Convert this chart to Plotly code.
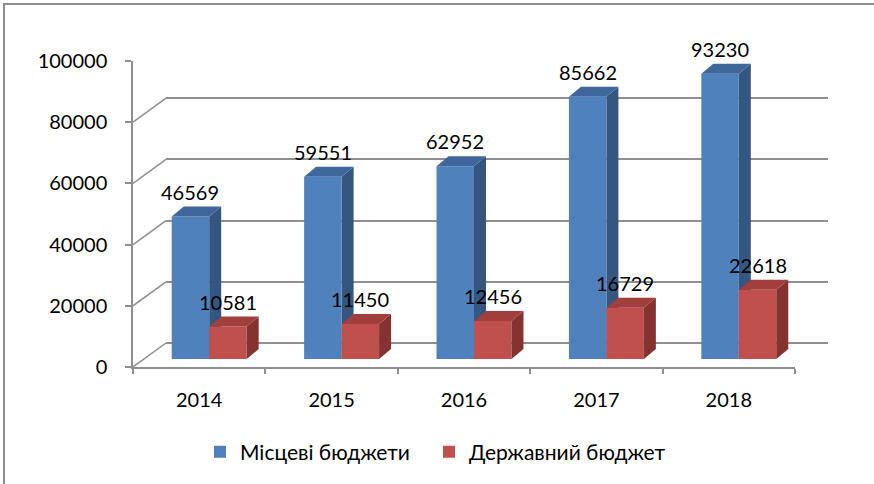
import plotly.graph_objects as go

# ---------------- data ----------------
years = ["2014", "2015", "2016", "2017", "2018"]
local_budgets = [46569, 59551, 62952, 85662, 93230]
state_budget = [10581, 11450, 12456, 16729, 22618]
series_names = ["Місцеві бюджети", "Державний бюджет"]
y_ticks = [0, 20000, 40000, 60000, 80000, 100000]

# ---------------- layout constants ----------------
W, H = 874, 484
YMAX = 100000
FONT = "Lato, 'Open Sans', sans-serif"
GRID = "#8f8f8f"
front_colors = ["#4f81bd", "#c0504d"]
side_colors = ["#34567f", "#843330"]
top_colors = ["#3f679b", "#a13f3c"]
legend_ids = ["legend", "legend2"]
legend_left_px = [200, 429]


def px(x):
    return x / W


def py(y):
    return 1 - y / H


# front plane (pixels): x from 133 to 795, y=0 at 367, y=YMAX at 61
FX0, FX1, FY0, FY1 = 133, 795, 367, 61
BAR_DX, BAR_DY = 10, -8       # bars sit slightly behind front plane
BACK_DX, BACK_DY = 33, -24    # back wall offset
DEPTH_PX_X, DEPTH_PX_Y = 12, 10  # bar depth

px_per_cat = (FX1 - FX0) / len(years)
px_per_unit = (FY0 - FY1) / YMAX
DXd = DEPTH_PX_X / px_per_cat
DYd = DEPTH_PX_Y / px_per_unit

BARGAP = 0.434
BW = (1 - BARGAP) / 2

fig = go.Figure()

# invisible traces to create back-wall and front-axis subplots
fig.add_trace(go.Scatter(x=[0], y=[None], xaxis="x", yaxis="y", showlegend=False,
                         hoverinfo="skip", mode="markers"))
fig.add_trace(go.Scatter(x=years, y=[None] * len(years), xaxis="x3", yaxis="y3",
                         showlegend=False, hoverinfo="skip", mode="markers"))

series = [local_budgets, state_budget]
xs = list(range(len(years)))
for k, vals in enumerate(series):
    fig.add_trace(go.Bar(x=xs, y=vals, name=series_names[k], xaxis="x2", yaxis="y2",
                         legend=legend_ids[k],
                         marker=dict(color=front_colors[k], line=dict(width=0)),
                         hoverinfo="skip"))

shapes = []
annotations = []
for k, vals in enumerate(series):
    for i, v in enumerate(vals):
        L = i - BW + k * BW
        R = L + BW
        # side face
        shapes.append(dict(
            type="path", xref="x2", yref="y2",
            path=f"M {R},0 L {R + DXd},{DYd} L {R + DXd},{v + DYd} L {R},{v} Z",
            fillcolor=side_colors[k], line=dict(width=0),
            layer="between" if k == 0 else "above"))
        # top face
        shapes.append(dict(
            type="path", xref="x2", yref="y2",
            path=f"M {L},{v} L {R},{v} L {R + DXd},{v + DYd} L {L + DXd},{v + DYd} Z",
            fillcolor=top_colors[k], line=dict(width=0), layer="above"))
        annotations.append(dict(
            x=(L + R) / 2, y=v, xref="x2", yref="y2", text=str(v), showarrow=False,
            yanchor="bottom", yshift=11, font=dict(family=FONT, size=20, color="#000")))

# diagonal lines from front axis to back wall
for t in y_ticks:
    shapes.append(dict(type="line", xref="x3", yref="y3", xsizemode="pixel",
                       ysizemode="pixel", xanchor=-0.5, yanchor=t,
                       x0=0, y0=0, x1=BACK_DX, y1=-BACK_DY,
                       line=dict(color=GRID, width=1.5), layer="below"))
shapes.append(dict(type="line", xref="x3", yref="y3", xsizemode="pixel",
                   ysizemode="pixel", xanchor=len(years) - 0.5, yanchor=0,
                   x0=0, y0=0, x1=BACK_DX, y1=-BACK_DY,
                   line=dict(color=GRID, width=1.5), layer="below"))

# outer frame (top and left edges)
shapes.append(dict(type="path", xref="paper", yref="paper",
                   path=f"M {px(4)},0 L {px(4)},{py(4)} L 1,{py(4)}",
                   line=dict(color="#8f8f8f", width=2)))

legend_style = dict(orientation="h", xanchor="left", y=py(452), yanchor="middle",
                    bgcolor="rgba(0,0,0,0)", borderwidth=0,
                    font=dict(family=FONT, size=21, color="#000"))

fig.update_layout(
    template="none",
    width=W, height=H, margin=dict(l=0, r=0, t=0, b=0, pad=0, autoexpand=False),
    paper_bgcolor="white", plot_bgcolor="rgba(0,0,0,0)",
    barmode="group", bargap=BARGAP, bargroupgap=0,
    font=dict(family=FONT, size=20, color="#000"),
    showlegend=True,
    legend=dict(x=px(legend_left_px[0]), **legend_style),
    legend2=dict(x=px(legend_left_px[1]), **legend_style),
    # back wall
    xaxis=dict(domain=[px(FX0 + BACK_DX), px(FX1 + BACK_DX)], range=[-0.5, len(years) - 0.5],
               visible=False, anchor="y", automargin=False),
    yaxis=dict(domain=[py(FY0 + BACK_DY), py(FY1 + BACK_DY)], range=[0, YMAX],
               tickvals=y_ticks, showticklabels=False, ticks="", showline=False,
               showgrid=True, gridcolor=GRID, gridwidth=1.5,
               zeroline=True, zerolinecolor=GRID, zerolinewidth=1.5, anchor="x",
               automargin=False),
    # bars
    xaxis2=dict(domain=[px(FX0 + BAR_DX), px(FX1 + BAR_DX)], range=[-0.5, len(years) - 0.5],
                visible=False, anchor="y2", automargin=False),
    yaxis2=dict(domain=[py(FY0 + BAR_DY), py(FY1 + BAR_DY)], range=[0, YMAX],
                visible=False, anchor="x2", automargin=False),
    # front axes
    xaxis3=dict(domain=[px(FX0), px(FX1)], type="category", categoryarray=years,
                categoryorder="array", range=[-0.5, len(years) - 0.5],
                tickson="boundaries", ticks="outside", ticklen=5, tickcolor=GRID,
                tickwidth=1.5, showline=True, linecolor=GRID, linewidth=1.5,
                showgrid=False, zeroline=False, anchor="y3", ticklabelstandoff=14,
                automargin=False,
                tickfont=dict(family=FONT, size=20, color="#000")),
    yaxis3=dict(domain=[py(FY0), py(FY1)], range=[0, YMAX], tickvals=y_ticks,
                tickformat="d", ticks="outside", ticklen=6, tickcolor=GRID, tickwidth=1.5,
                showline=True, linecolor=GRID, linewidth=1.5, showgrid=False,
                zeroline=False, anchor="x3", ticklabelstandoff=14, automargin=False,
                tickfont=dict(family=FONT, size=20, color="#000")),
    shapes=shapes, annotations=annotations,
)

fig.write_html("out.html")
